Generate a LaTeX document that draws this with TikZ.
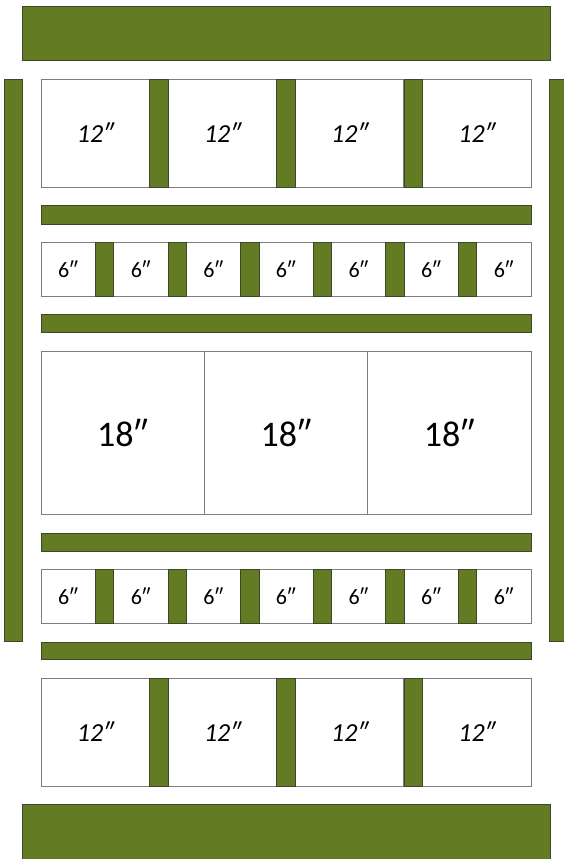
\documentclass[tikz,border=0pt]{standalone}
\usepackage{fontspec}
\setmainfont{Carlito}
\definecolor{bargreen}{RGB}{99,123,35}
\definecolor{edgegray}{RGB}{125,125,125}
\definecolor{baredge}{RGB}{60,70,40}
\newcommand{\dprime}{\char"2033}
\begin{document}
\begin{tikzpicture}[x=1pt,y=-1pt,
  greenbar/.style={draw=baredge, fill=bargreen, line width=0.6pt, anchor=north west, inner sep=0pt, outer sep=0pt},
  cell/.style={draw=edgegray, fill=white, line width=0.8pt, anchor=north west, inner sep=0pt, outer sep=0pt, align=center},
  bigtxt/.style={font=\fontsize{36}{40}\selectfont},
  midtxt/.style={font=\itshape\fontsize{26}{30}\selectfont},
  smalltxt/.style={font=\fontsize{22}{26}\selectfont}
]
\useasboundingbox (0,0) rectangle (564,859);
% outer frame bars
\node[greenbar, minimum width=528pt, minimum height=54pt] (topbar) at (22,6) {};
\node[greenbar, minimum width=528pt, minimum height=60pt] (bottombar) at (22,804) {};
\node[greenbar, minimum width=18pt, minimum height=562pt] (leftpost) at (4.5,79) {};
\node[greenbar, minimum width=20pt, minimum height=562pt] (rightpost) at (549.5,79) {};
% horizontal shelves
\node[greenbar, minimum width=490pt, minimum height=19pt] (shelf1) at (41,205) {};
\node[greenbar, minimum width=490pt, minimum height=18pt] (shelf2) at (41,314) {};
\node[greenbar, minimum width=490pt, minimum height=18pt] (shelf3) at (41,533) {};
\node[greenbar, minimum width=490pt, minimum height=17pt] (shelf4) at (41,642) {};
% row of 12" cells (top and bottom)
\foreach \r/\y in {a/79, e/678} {
  \foreach \i in {0,...,3} {
    \node[cell, midtxt, minimum width=108.5pt, minimum height=108pt] (c\r\i) at ({41+\i*127.17},\y) {12\dprime};
  }
  \foreach \i in {0,...,2} {
    \node[greenbar, minimum width=18.67pt, minimum height=108pt] (s\r\i) at ({41+108.5+\i*127.17},\y) {};
  }
}
% rows of 6" cells
\foreach \r/\y in {b/242, d/569} {
  \foreach \i in {0,...,6} {
    \node[cell, smalltxt, minimum width=54.3pt, minimum height=54pt] (c\r\i) at ({41+\i*72.6},\y) {6\dprime};
  }
  \foreach \i in {0,...,5} {
    \node[greenbar, minimum width=18.3pt, minimum height=54pt] (s\r\i) at ({41+54.3+\i*72.6},\y) {};
  }
}
% row of 18" cells
\foreach \i in {0,...,2} {
  \node[cell, bigtxt, minimum width=163.33pt, minimum height=163pt] (cc\i) at ({41+\i*163.33},351) {18\dprime};
}
\end{tikzpicture}
\end{document}
